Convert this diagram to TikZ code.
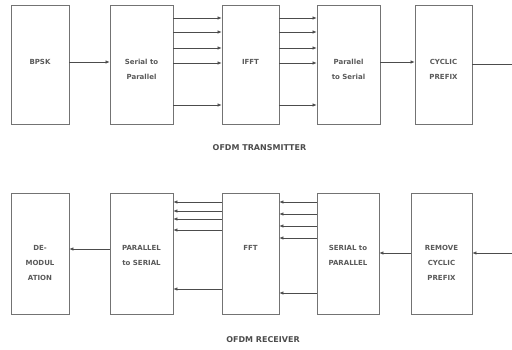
\documentclass[tikz,border=0pt]{standalone}
\usepackage{fontspec}
\setmainfont{DejaVu Sans}
\usetikzlibrary{arrows.meta}
\begin{document}
\begin{tikzpicture}[x=1pt,y=-1pt,
  blk/.style={draw=black!55,line width=0.8pt,minimum height=119pt,inner sep=0pt},
  lbl/.style={anchor=north,inner sep=0pt,align=center,
    font=\bfseries\fontsize{7}{15}\selectfont,text=black!65},
  arr/.style={draw=black!70,line width=0.6pt,-{Latex[length=4pt,width=3.5pt]}},
  ln/.style={draw=black!70,line width=0.6pt},
  ttl/.style={font=\bfseries\fontsize{8}{9}\selectfont,text=black!70}]
\useasboundingbox (0,0) rectangle (512,349);
% transmitter
\node[blk,minimum width=58pt] (bpsk) at (40,64.5) {};
\node[blk,minimum width=63pt] (s2p) at (141.5,64.5) {};
\node[blk,minimum width=57pt] (ifft) at (250.5,64.5) {};
\node[blk,minimum width=63pt] (p2s) at (348.5,64.5) {};
\node[blk,minimum width=57pt] (cp) at (443.5,64.5) {};
\node[lbl] (bpskt) at (bpsk.center |- 0,59) {BPSK};
\node[lbl] (s2pt) at (s2p.center |- 0,59) {Serial to\\Parallel};
\node[lbl] (ifftt) at (ifft.center |- 0,59) {IFFT};
\node[lbl] (p2st) at (p2s.center |- 0,59) {Parallel\\to Serial};
\node[lbl] (cpt) at (cp.center |- 0,59) {CYCLIC\\PREFIX};
\coordinate (txout) at (512,64);
\node[ttl] (txt) at (259.5,148) {OFDM TRANSMITTER};
\draw[arr] (bpsk.east |- 0,62) -- (s2p.west |- 0,62);
\foreach \y in {18,32,48,63,105}{
  \draw[arr] (s2p.east |- 0,\y) -- (ifft.west |- 0,\y);
  \draw[arr] (ifft.east |- 0,\y) -- (p2s.west |- 0,\y);
}
\draw[arr] (p2s.east |- 0,62) -- (cp.west |- 0,62);
\draw[ln] (cp.east |- 0,64) -- (txout);
% receiver
\node[blk,minimum width=58pt,minimum height=121pt] (demod) at (40,253.5) {};
\node[blk,minimum width=63pt,minimum height=121pt] (rp2s) at (141.5,253.5) {};
\node[blk,minimum width=57pt,minimum height=121pt] (fft) at (250.5,253.5) {};
\node[blk,minimum width=62pt,minimum height=121pt] (rs2p) at (348,253.5) {};
\node[blk,minimum width=61pt,minimum height=121pt] (rcp) at (441.5,253.5) {};
\node[lbl] (demodt) at (demod.center |- 0,245.5) {DE-\\MODUL\\ATION};
\node[lbl] (rp2st) at (rp2s.center |- 0,245.5) {PARALLEL\\to SERIAL};
\node[lbl] (fftt) at (fft.center |- 0,245.5) {FFT};
\node[lbl] (rs2pt) at (rs2p.center |- 0,245.5) {SERIAL to\\PARALLEL};
\node[lbl] (rcpt) at (rcp.center |- 0,245.5) {REMOVE\\CYCLIC\\PREFIX};
\coordinate (rxin) at (512,253);
\node[ttl] (rxt) at (263,340) {OFDM RECEIVER};
\foreach \y in {202,211,219,230,289}{
  \draw[arr] (fft.west |- 0,\y) -- (rp2s.east |- 0,\y);
}
\foreach \y in {202,214,226,238,293}{
  \draw[arr] (rs2p.west |- 0,\y) -- (fft.east |- 0,\y);
}
\draw[arr] (rp2s.west |- 0,249) -- (demod.east |- 0,249);
\draw[arr] (rcp.west |- 0,253) -- (rs2p.east |- 0,253);
\draw[arr] (rxin) -- (rcp.east |- 0,253);
\end{tikzpicture}
\end{document}
